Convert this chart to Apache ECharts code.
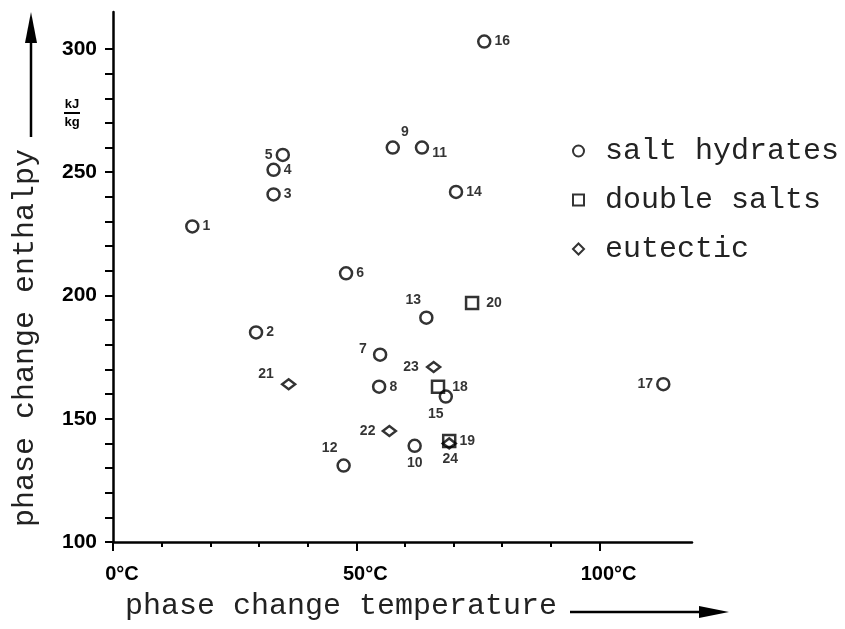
<!DOCTYPE html>
<html>
<head>
<meta charset="utf-8">
<script src="https://cdn.jsdelivr.net/npm/echarts@6/dist/echarts.min.js"></script>
<style>
  html, body { margin: 0; padding: 0; background: #fff; }
  #chart { width: 845px; height: 629px; }
</style>
</head>
<body>
<div id="chart"></div>
<script>
// latent heat storage materials: melting point vs. heat of fusion

// salt hydrates (points 1-17)
const saltIds = [1, 2, 3, 4, 5, 6, 7, 8, 9, 10, 11, 12, 13, 14, 15, 16, 17];
const saltTemp = [16.3, 29.4, 33.0, 33.0, 34.9, 47.9, 54.9, 54.7, 57.5, 62.0, 63.5, 47.4, 64.4, 70.5, 68.4, 76.3, 113.1];
const saltEnthalpy = [228, 185, 241, 251, 257, 209, 176, 163, 260, 139, 260, 131, 191, 242, 159, 303, 164];

// double salts (points 18-20)
const doubleIds = [18, 19, 20];
const doubleTemp = [66.8, 69.1, 73.8];
const doubleEnthalpy = [163, 141, 197];

// eutectics (points 21-24)
const eutecticIds = [21, 22, 23, 24];
const eutecticTemp = [36.1, 56.8, 65.9, 69.1];
const eutecticEnthalpy = [164, 145, 171, 140];

// axis ticks / labels
const tempTicks = [0, 10, 20, 30, 40, 50, 60, 70, 80, 90, 100];
const tempLabels = [0, 50, 100];
const enthalpyTicks = [100, 110, 120, 130, 140, 150, 160, 170, 180, 190, 200,
  210, 220, 230, 240, 250, 260, 270, 280, 290, 300];
const enthalpyLabels = [100, 150, 200, 250, 300];

// where each number sits next to its marker: [position, dx, dy]
const labelPlace = {
  5: ['left', 0, 0], 7: ['left', -3, -6], 9: ['top', 12, 2], 10: ['bottom', 0, 0],
  11: ['right', 0, 6], 12: ['top', -14, 0], 13: ['top', -13, 0], 15: ['bottom', -10, 0],
  17: ['left', 0, 0], 18: ['right', 4, 0], 20: ['right', 4, 0],
  21: ['left', -4, -10], 22: ['left', -3, 0], 23: ['left', -4, 0], 24: ['bottom', 1, 0]
};

const chart = echarts.init(document.getElementById('chart'));

const mono = '"Liberation Mono", "DejaVu Sans Mono", monospace';
const markerStyle = { color: 'transparent', borderColor: '#000', borderWidth: 2.5 };

function points(ids, temps, values) {
  return ids.map((id, i) => {
    const p = labelPlace[id] || ['right', 0, 0];
    return {
      name: String(id),
      value: [temps[i], values[i]],
      label: { position: p[0], offset: [p[1], p[2]] }
    };
  });
}

function scatter(name, symbol, size, data) {
  return {
    name: name,
    type: 'scatter',
    symbol: symbol,
    symbolSize: size,
    itemStyle: markerStyle,
    label: {
      show: true,
      formatter: '{b}',
      distance: 3,
      color: '#000',
      fontSize: 14,
      fontWeight: 'bold',
      fontFamily: 'Liberation Sans'
    },
    emphasis: { disabled: true },
    data: data
  };
}

const option = {
  backgroundColor: '#fff',
  animation: false,
  grid: { left: 113, right: 153, top: 12, bottom: 87 },
  legend: {
    orient: 'vertical',
    left: 567,
    top: 131,
    itemWidth: 11,
    itemHeight: 11,
    itemGap: 19,
    textStyle: { fontFamily: mono, fontSize: 30, lineHeight: 30, color: '#222', padding: [0, 0, 0, 16] },
    data: [
      { name: 'salt hydrates', icon: 'circle', itemStyle: { color: 'transparent', borderColor: '#000', borderWidth: 2 } },
      { name: 'double salts', icon: 'rect', itemStyle: { color: 'transparent', borderColor: '#000', borderWidth: 2 } },
      { name: 'eutectic', icon: 'diamond', itemStyle: { color: 'transparent', borderColor: '#000', borderWidth: 2 } }
    ]
  },
  xAxis: [
    {
      type: 'value', min: 0, max: 119,
      axisLine: { show: true, lineStyle: { color: '#000', width: 2.5 } },
      axisTick: { show: true, customValues: tempTicks, length: 5, lineStyle: { color: '#000', width: 2 } },
      axisLabel: {
        customValues: tempLabels, formatter: v => v + '°C', margin: 22,
        color: '#000', fontSize: 20, fontWeight: 'bold', fontFamily: 'Liberation Sans',
        padding: [0, 0, 0, 18]
      },
      splitLine: { show: false }
    },
    {
      type: 'value', min: 0, max: 119, position: 'bottom',
      axisLine: { show: false },
      axisTick: { show: true, customValues: tempLabels, length: 9, lineStyle: { color: '#000', width: 2 } },
      axisLabel: { show: false },
      splitLine: { show: false }
    }
  ],
  yAxis: {
    type: 'value', min: 100, max: 315,
    axisLine: { show: true, lineStyle: { color: '#000', width: 2.5 } },
    axisTick: { show: true, customValues: enthalpyTicks, length: 8, lineStyle: { color: '#000', width: 2 } },
    axisLabel: {
      customValues: enthalpyLabels, margin: 16,
      color: '#000', fontSize: 21, fontWeight: 'bold', fontFamily: 'Liberation Sans'
    },
    splitLine: { show: false }
  },
  graphic: [
    // y title with upward arrow
    {
      type: 'text', x: 25, y: 338, rotation: Math.PI / 2,
      style: { text: 'phase change enthalpy', font: '30px ' + mono, fill: '#222', align: 'center', verticalAlign: 'middle' }
    },
    { type: 'line', shape: { x1: 31, y1: 137, x2: 31, y2: 38 }, style: { stroke: '#000', lineWidth: 2.5 } },
    { type: 'polygon', shape: { points: [[31, 12], [25, 43], [37, 43]] }, style: { fill: '#000' } },
    // x title with arrow to the right
    {
      type: 'text', x: 125, y: 606,
      style: { text: 'phase change temperature', font: '30px ' + mono, fill: '#222', align: 'left', verticalAlign: 'middle' }
    },
    { type: 'line', shape: { x1: 570, y1: 612, x2: 705, y2: 612 }, style: { stroke: '#000', lineWidth: 2.5 } },
    { type: 'polygon', shape: { points: [[729, 612], [699, 606], [699, 618]] }, style: { fill: '#000' } },
    // unit kJ/kg
    {
      type: 'text', x: 72, y: 104,
      style: { text: 'kJ', font: 'bold 13px "Liberation Sans"', fill: '#000', align: 'center', verticalAlign: 'middle' }
    },
    { type: 'line', shape: { x1: 64, y1: 113, x2: 80, y2: 113 }, style: { stroke: '#000', lineWidth: 2 } },
    {
      type: 'text', x: 72, y: 122,
      style: { text: 'kg', font: 'bold 13px "Liberation Sans"', fill: '#000', align: 'center', verticalAlign: 'middle' }
    }
  ],
  series: [
    scatter('salt hydrates', 'circle', 12, points(saltIds, saltTemp, saltEnthalpy)),
    scatter('double salts', 'rect', 12, points(doubleIds, doubleTemp, doubleEnthalpy)),
    scatter('eutectic', 'diamond', [13, 10], points(eutecticIds, eutecticTemp, eutecticEnthalpy))
  ]
};

chart.setOption(option);
window.addEventListener('resize', () => chart.resize());
</script>
</body>
</html>
